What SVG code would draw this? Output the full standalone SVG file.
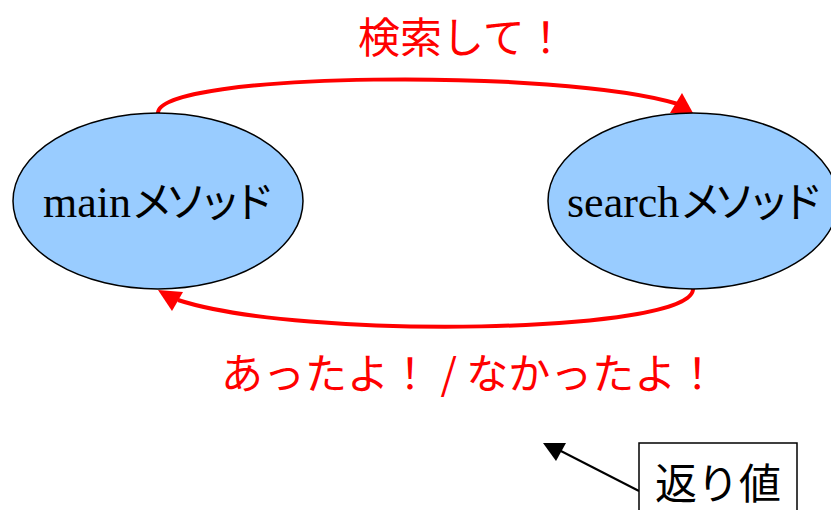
<svg xmlns="http://www.w3.org/2000/svg" width="831" height="510" viewBox="0 0 831 510">
<style>
.node ellipse { fill: #99CCFF; stroke: #000; stroke-width: 1.5; }
.ntext { font-family: "Liberation Serif", "Noto Sans CJK JP", serif; font-size: 44px; fill: #000; }
.kata { font-family: "Noto Sans CJK JP", sans-serif; font-size: 42px; }
.conn { fill: none; stroke: #FF0000; stroke-width: 4; }
.red { fill: #FF0000; }
.lbl { font-family: "Noto Sans CJK JP", "Liberation Sans", sans-serif; font-size: 42px; fill: #FF0000; }
</style>
<rect width="831" height="510" fill="#fff"/>
<g id="connectors">
  <path class="conn" d="M158,113 C158,72 560,68 678,104"/>
  <polygon class="red" points="670,113 682,93 693,113"/>
  <path class="conn" d="M693,289 C693,334 300,340 178,300"/>
  <polygon class="red" points="158,290 183,292 172,311"/>
  <line x1="639" y1="491" x2="557" y2="449" stroke="#000" stroke-width="2"/>
  <polygon fill="#000" points="543,443 566,443 556,461"/>
</g>
<g id="main" class="node">
  <ellipse cx="158" cy="201" rx="145" ry="88"/>
  <text class="ntext" x="43" y="217">main<tspan class="kata" letter-spacing="-8">メソッド</tspan></text>
</g>
<g id="search" class="node">
  <ellipse cx="693" cy="201" rx="145" ry="88"/>
  <text class="ntext" x="567" y="217">search<tspan class="kata" letter-spacing="-8">メソッド</tspan></text>
</g>
<g id="label-top">
  <text class="lbl" x="358" y="53" font-size="43">検索して！</text>
</g>
<g id="label-bottom">
  <text class="lbl" x="221" y="389">あったよ！ / なかったよ！</text>
</g>
<g id="retval">
  <rect x="639" y="443" width="158" height="80" fill="#fff" stroke="#000" stroke-width="1.5"/>
  <text x="718" y="499" text-anchor="middle" font-family="Noto Sans CJK JP, sans-serif" font-size="42" fill="#000">返り値</text>
</g>
</svg>
